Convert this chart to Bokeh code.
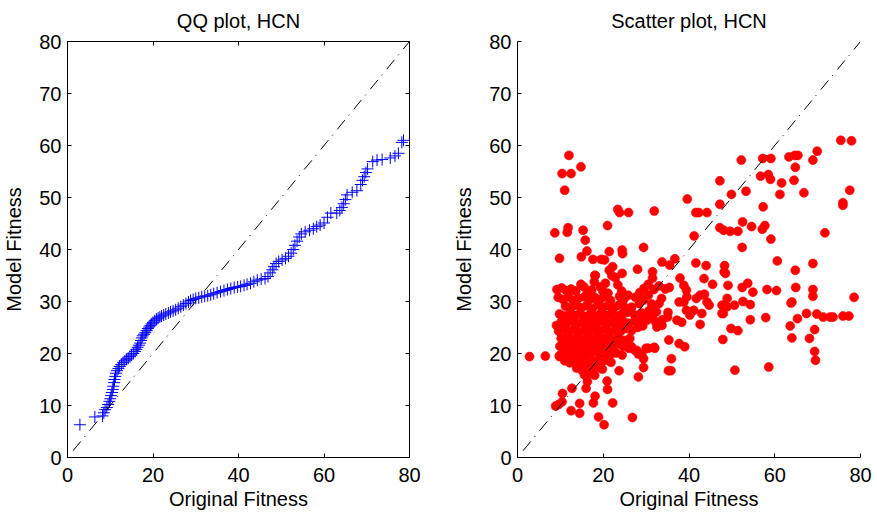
from bokeh.plotting import figure
from bokeh.layouts import row
from bokeh.models import LinearAxis, FixedTicker, CustomJSTickFormatter, Range1d
from bokeh.embed import file_html
from bokeh.resources import INLINE

FONT = "Liberation Sans"

# ---------------- data ----------------
x_ticks = [0, 20, 40, 60, 80]
y_ticks = [0, 10, 20, 30, 40, 50, 60, 70, 80]
ref_line = [1.3, 80]

# QQ plot: sorted original fitness vs sorted model fitness
qq_x = [
    2.9, 6.4, 8.2, 8.5, 8.8, 9.2, 9.5, 9.8, 10.0, 10.2,
    10.4, 10.6, 10.7, 10.9, 11.0, 11.2, 11.3, 11.6, 11.9, 12.2,
    12.6, 13.0, 13.4, 13.8, 14.2, 14.6, 15.0, 15.4, 15.8, 16.1,
    16.4, 16.7, 17.0, 17.2, 17.4, 17.6, 17.9, 18.2, 18.5, 18.8,
    19.1, 19.4, 19.7, 20.0, 20.4, 20.8, 21.2, 21.6, 22.0, 22.5,
    23.0, 23.6, 24.1, 24.7, 25.3, 25.9, 26.5, 27.1, 27.7, 28.3,
    28.8, 29.4, 30.0, 30.7, 31.4, 32.1, 32.8, 33.5, 34.2, 35.0,
    35.8, 36.6, 37.4, 38.2, 39.0, 39.8, 40.5, 41.3, 42.0, 42.8,
    43.6, 44.4, 45.3, 46.2, 46.9, 47.4, 47.9, 48.3, 48.8, 49.4,
    50.2, 51.0, 51.7, 52.3, 52.8, 53.2, 53.7, 54.2, 54.7, 55.6,
    56.6, 57.5, 58.3, 59.1, 60.0, 60.8, 61.6, 63.0, 63.7, 64.2,
    64.6, 65.0, 65.4, 66.6, 67.7, 68.6, 69.0, 69.4, 69.8, 70.2,
    71.4, 72.4, 73.6, 75.5, 76.6, 77.4, 78.2, 78.6]
qq_y = [
    6.3, 7.8, 8.0, 8.6, 9.2, 9.6, 10.2, 10.8, 11.3, 11.9,
    12.5, 13.1, 13.7, 14.4, 15.0, 15.6, 16.2, 16.7, 17.1, 17.5,
    17.9, 18.3, 18.6, 18.9, 19.1, 19.4, 19.7, 20.0, 20.4, 20.8,
    21.2, 21.6, 22.0, 22.5, 23.0, 23.4, 23.7, 24.0, 24.4, 24.8,
    25.1, 25.4, 25.7, 26.0, 26.3, 26.6, 26.8, 27.0, 27.2, 27.4,
    27.6, 27.8, 28.0, 28.2, 28.4, 28.7, 29.0, 29.3, 29.6, 29.9,
    30.2, 30.4, 30.6, 30.7, 30.9, 31.0, 31.1, 31.3, 31.5, 31.7,
    31.9, 32.1, 32.3, 32.5, 32.7, 32.8, 32.9, 33.1, 33.3, 33.5,
    33.8, 34.1, 34.3, 34.4, 34.8, 35.5, 36.1, 36.7, 37.3, 37.7,
    38.0, 38.3, 38.7, 39.3, 40.0, 40.8, 41.6, 42.4, 43.0, 43.4,
    43.7, 44.0, 44.4, 44.7, 45.1, 46.2, 47.0, 47.0, 47.5, 48.1,
    48.8, 49.6, 50.5, 51.0, 51.3, 52.5, 53.3, 54.0, 54.8, 55.5,
    56.9, 57.2, 57.3, 57.6, 58.0, 58.5, 60.6, 61.0]

# Scatter plot: (original fitness, model fitness) pairs, grouped by region
ul_x = [12.0, 10.4, 12.5, 14.8, 11.0, 8.7, 11.8, 11.6, 15.3, 15.8, 9.8, 14.9, 16.2,
        17.6, 19.5, 20.3, 21.0, 21.4, 23.4, 23.8, 25.9, 24.4, 24.5, 22.2, 24.4, 18.1]
ul_y = [58.1, 54.6, 54.6, 55.9, 51.4, 43.2, 44.2, 43.3, 43.7, 41.8, 38.3, 38.6, 39.7,
        38.1, 38.1, 38.0, 44.6, 39.6, 47.7, 47.1, 47.1, 39.9, 39.2, 36.7, 35.4, 35.0]

mid_x = [29.4, 31.9, 28.0, 31.5, 33.7, 35.5, 36.7, 39.6, 41.2, 41.6, 42.3, 44.2,
         41.6, 44.0, 43.5, 45.5]
mid_y = [40.4, 47.4, 36.2, 35.7, 37.6, 37.0, 38.2, 49.7, 42.6, 47.1, 47.1, 47.1,
         37.4, 36.9, 34.4, 33.3]

ur_x = [47.2, 47.2, 47.2, 48.1, 49.6, 51.4, 49.9, 52.2, 53.3, 52.5, 54.6, 52.4, 48.3,
        48.2, 49.1, 57.2, 59.1, 56.7, 58.5, 59.0, 57.3, 57.1, 57.7, 59.1, 60.6, 61.6,
        61.2, 63.3, 64.7, 65.4, 64.5, 64.8, 66.8, 68.9, 69.9, 71.7, 75.4, 77.9, 75.9,
        75.9, 77.5, 68.9, 64.8]
ur_y = [53.2, 48.7, 44.2, 43.7, 43.5, 43.5, 50.6, 57.2, 51.2, 45.3, 44.4, 40.4, 36.9,
        35.7, 33.1, 57.5, 57.5, 54.1, 54.4, 53.5, 48.2, 43.9, 44.6, 42.0, 37.8, 52.8,
        50.6, 57.8, 58.1, 58.1, 53.3, 55.8, 50.9, 57.2, 58.9, 43.2, 61.0, 60.9, 49.0,
        48.5, 51.4, 37.3, 36.0]

lr_x = [64.9, 68.9, 68.9, 63.8, 64.0, 67.4, 69.8, 71.3, 72.9, 73.6, 75.9, 77.3, 78.5,
        65.3, 63.6, 64.0, 68.1, 69.3, 69.3, 69.5, 58.6, 50.7, 58.2, 60.4, 57.9, 54.9,
        54.3, 54.3, 53.7, 52.4, 52.6, 50.6, 47.9, 49.8, 51.4, 47.7, 48.9, 48.9, 48.5]
lr_y = [32.7, 32.3, 31.0, 29.7, 29.9, 27.7, 27.6, 27.0, 27.0, 27.0, 27.2, 27.2, 30.8,
        26.7, 25.3, 23.0, 22.9, 24.6, 20.4, 18.7, 17.4, 16.8, 32.3, 32.1, 26.9, 31.8,
        26.5, 29.4, 33.5, 32.7, 30.0, 29.3, 22.7, 24.8, 24.4, 27.7, 29.0, 30.6, 35.4]

ml_x = [42.6, 43.0, 44.7, 44.2, 43.6, 41.7, 41.1, 40.2, 39.4, 38.8, 37.7, 37.2, 38.3,
        39.4, 38.8, 37.9, 35.4, 35.1, 35.3, 37.7, 39.0, 35.9, 35.2, 35.8, 33.7, 32.5,
        32.0, 30.0, 29.4, 29.4, 28.2, 26.8, 42.6, 39.5, 47.7, 48.0]
ml_y = [25.6, 27.7, 29.3, 29.9, 31.4, 30.6, 28.3, 27.4, 28.3, 29.9, 29.9, 26.4, 26.0,
        32.2, 33.1, 34.5, 32.7, 27.9, 22.6, 21.9, 21.3, 19.0, 16.7, 16.7, 25.4, 25.1,
        21.0, 21.0, 19.0, 17.3, 15.5, 7.7, 31.2, 30.9, 29.3, 27.7]

ll_x = [23.7, 22.2, 20.9, 21.0, 20.2, 18.9, 18.1, 17.7, 16.0, 16.3, 14.5, 14.5, 12.5,
        12.7, 10.5, 10.4, 8.9, 9.6, 2.8, 6.5, 9.8]
ll_y = [16.7, 10.5, 14.7, 13.1, 6.3, 7.8, 11.8, 10.5, 13.3, 14.6, 10.4, 8.5, 9.0,
        13.3, 12.3, 10.7, 9.9, 10.2, 19.4, 19.5, 19.4]

blob_x = [
    14.8, 15.5, 17.9, 18.1, 19.3, 20.5, 22.8, 23.4,
    9.2, 10.3, 11.4, 12.5, 13.6, 16.4, 17.3, 19.9, 21.1, 24.3,
    9.5, 10.6, 11.9, 13.0, 14.2, 15.6, 16.8, 18.0, 19.2, 20.4, 21.7, 24.9, 25.8,
    11.2, 12.4, 13.7, 14.9, 16.1, 17.4, 18.7, 19.9, 21.1, 22.4, 23.6, 26.6, 28.4, 29.5,
    9.8, 11.0, 12.3, 13.5, 14.6, 15.8, 17.0, 18.2, 19.5, 20.7, 21.9, 23.1, 24.4, 25.6,
    27.3, 28.9, 30.6, 31.8, 33.0,
    9.1, 10.3, 11.5, 12.7, 13.9, 15.1, 16.3, 17.5, 18.7, 19.9, 21.1, 22.3, 23.5, 24.7,
    26.0, 27.4, 28.6, 30.2, 31.4,
    9.6, 10.8, 12.0, 13.2, 14.4, 15.6, 16.8, 18.0, 19.2, 20.4, 21.6, 22.8, 24.0, 25.3,
    26.6, 28.0, 29.2,
    10.2, 11.4, 12.6, 13.8, 15.0, 16.2, 17.4, 18.6, 19.8, 21.0, 22.2, 23.4, 24.8, 26.2,
    9.9, 11.1, 12.3, 13.5, 14.7, 15.9, 17.1, 18.3, 19.5, 20.7, 21.9, 23.2, 24.6, 26.0, 27.4,
    9.8, 10.9, 12.1, 13.3, 14.5, 15.7, 16.9, 18.1, 19.3, 20.5, 21.7, 23.0, 24.4, 28.2,
    11.0, 12.2, 13.4, 14.6, 15.8, 17.0, 18.2, 19.4, 20.6, 21.8,
    13.8, 15.0, 16.2, 17.4, 18.6, 19.8, 15.6, 16.8, 18.0,
    21.4, 22.0, 23.8, 24.5, 25.2, 27.5, 28.5, 29.5, 30.5, 31.5, 29.2, 30.8, 32.4, 33.6,
    34.5, 32.2, 33.8, 35.0, 25.2, 26.6, 27.8, 29.0, 30.5, 31.9, 30.5, 31.8, 33.0, 31.3]
blob_y = [
    33.3, 32.8, 33.8, 35.0, 32.8, 33.5, 34.6, 33.2,
    32.3, 32.6, 32.1, 32.4, 32.0, 31.8, 32.2, 32.0, 31.6, 32.0,
    30.8, 30.4, 30.9, 30.2, 30.6, 30.9, 30.3, 30.8, 30.4, 30.9, 30.2, 30.6, 31.2,
    29.1, 28.7, 29.3, 28.8, 29.2, 28.6, 29.4, 28.9, 29.2, 28.7, 29.3, 28.9, 29.6, 30.3,
    27.6, 27.2, 27.8, 27.3, 27.7, 27.1, 27.6, 27.2, 27.8, 27.3, 27.7, 27.2, 27.6, 27.9,
    27.4, 27.8, 28.2, 29.0, 29.6,
    25.4, 26.2, 25.8, 26.3, 25.7, 26.1, 25.6, 26.2, 25.8, 26.3, 25.7, 26.1, 25.6, 26.2,
    25.8, 26.3, 25.9, 26.4, 26.9,
    24.3, 24.8, 24.2, 24.7, 24.1, 24.6, 24.2, 24.8, 24.3, 24.7, 24.1, 24.6, 24.2, 24.8,
    24.4, 25.0, 25.3,
    22.9, 23.3, 22.7, 23.2, 22.6, 23.1, 22.7, 23.3, 22.8, 23.2, 22.6, 23.1, 22.5, 22.9,
    21.4, 21.8, 21.2, 21.7, 21.1, 21.6, 21.3, 21.8, 21.2, 21.7, 21.3, 21.8, 21.4, 21.0, 20.6,
    19.6, 20.2, 19.8, 20.3, 19.7, 20.2, 19.8, 20.4, 19.9, 20.3, 19.8, 20.1, 19.7, 19.9,
    18.6, 18.2, 18.8, 18.3, 18.7, 18.1, 18.6, 18.2, 18.7, 18.3,
    17.2, 16.8, 17.3, 16.7, 17.2, 17.0, 15.9, 16.2, 15.8,
    36.0, 35.0, 31.0, 29.8, 28.7, 30.8, 31.7, 32.5, 33.3, 34.5, 26.8, 27.4, 28.0, 30.6,
    32.4, 26.1, 26.5, 27.0, 22.0, 21.3, 20.6, 19.8, 21.0, 21.2, 31.2, 32.3, 33.0, 29.5]

scatter_x = ul_x + mid_x + ur_x + lr_x + ml_x + ll_x + blob_x
scatter_y = ul_y + mid_y + ur_y + lr_y + ml_y + ll_y + blob_y

# ---------------- styling helpers ----------------
def style_axis(ax, ticks, labels=True):
    ax.ticker = FixedTicker(ticks=ticks)
    ax.major_tick_in = 4
    ax.major_tick_out = 0
    ax.minor_tick_in = 0
    ax.minor_tick_out = 0
    ax.axis_line_color = "black"
    ax.axis_line_width = 1
    ax.major_tick_line_color = "black"
    ax.major_label_text_font = FONT
    ax.major_label_text_font_size = "20px"
    ax.major_label_text_color = "black"
    ax.axis_label_text_font = FONT
    ax.axis_label_text_font_size = "20px"
    ax.axis_label_text_font_style = "normal"
    ax.axis_label_text_color = "black"
    if not labels:
        ax.formatter = CustomJSTickFormatter(code="return ''")
        ax.major_label_standoff = 0


def make_fig(title, width, left, right, boxed):
    p = figure(width=width, height=514, x_range=Range1d(0, 80), y_range=Range1d(0, 80),
               output_backend="svg", toolbar_location=None, title=title,
               min_border_left=left, min_border_right=right,
               min_border_top=41, min_border_bottom=57)
    p.title.align = "center"
    p.title.vertical_align = "top"
    p.title.text_font = FONT
    p.title.text_font_size = "20px"
    p.title.text_font_style = "normal"
    p.title.text_color = "black"
    p.title.standoff = 15
    p.xgrid.visible = False
    p.ygrid.visible = False
    p.background_fill_color = "white"
    p.border_fill_color = "white"
    p.outline_line_color = "black" if boxed else None
    p.xaxis.axis_label = "Original Fitness"
    p.yaxis.axis_label = "Model Fitness"
    style_axis(p.xaxis[0], x_ticks)
    style_axis(p.yaxis[0], y_ticks)
    p.xaxis[0].major_label_standoff = 10
    p.xaxis[0].axis_label_standoff = 3
    p.yaxis[0].major_label_standoff = 6
    p.yaxis[0].axis_label_standoff = 11
    if boxed:
        top = LinearAxis()
        style_axis(top, x_ticks, labels=False)
        p.add_layout(top, "above")
        rgt = LinearAxis()
        style_axis(rgt, y_ticks, labels=False)
        p.add_layout(rgt, "right")
    return p


# ---------------- left: QQ plot ----------------
p1 = make_fig("QQ plot, HCN", 440, 67, 31, True)
p1.scatter(qq_x, qq_y, marker="cross", size=12, line_color="#0000ff", line_width=1)
p1.line(ref_line, ref_line, line_color="black", line_width=1, line_dash="12 6 1 7")

# ---------------- right: scatter plot ----------------
p2 = make_fig("Scatter plot, HCN", 437, 77, 17, False)
p2.scatter(scatter_x, scatter_y, marker="circle", size=9, fill_color="#ff0000",
           line_color="#ff0000", line_width=0.6)
p2.line(ref_line, ref_line, line_color="black", line_width=1, line_dash="12 6 1 7")

layout = row(p1, p2)
open("out.html", "w").write(file_html(layout, INLINE))
